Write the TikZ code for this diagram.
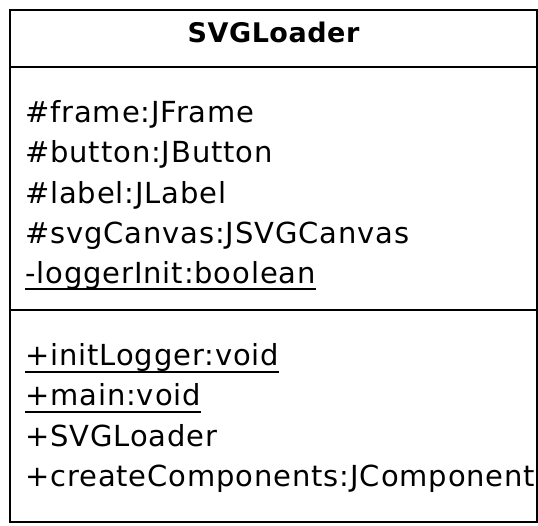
\documentclass[tikz,border=0pt]{standalone}
\usepackage{fontspec}
\newfontfamily\umlfont[LetterSpace=3]{DejaVu Sans}
\newfontfamily\umltitle[LetterSpace=2]{DejaVu Sans}

\begin{document}
\begin{tikzpicture}[x=1pt, y=-1pt,
  member/.style={anchor=base west, inner sep=0pt, font=\umlfont\fontsize{29}{34}\selectfont},
  title node/.style={anchor=base, inner sep=0pt, font=\umltitle\bfseries\fontsize{27}{32}\selectfont},
  uline/.style={line width=1.8pt}]

% page and clip, text runs past the right edge
\useasboundingbox (0,0) rectangle (538,525);
\clip (0,0) rectangle (538,525);

% class box
\coordinate (tl) at (10,10);
\coordinate (br) at (537,522);
\draw[line width=2.6pt] (tl) rectangle (br);

% compartments
\coordinate (d1l) at (10,67);
\coordinate (d1r) at (537,67);
\coordinate (d2l) at (10,310);
\coordinate (d2r) at (537,310);

\path[]
(d1l) [-, line width=2.4pt] edge (d1r)
(d2l) [-, line width=2.4pt] edge (d2r)
;

% name
\node[title node] (name) at (273.5,42) {SVGLoader};

% attributes
\node[member] (a1) at (25,122) {\#frame:JFrame};
\node[member] (a2) at (25,162) {\#button:JButton};
\node[member] (a3) at (25,203) {\#label:JLabel};
\node[member] (a4) at (25,243) {\#svgCanvas:JSVGCanvas};
\node[member] (a5) at (25,283) {-loggerInit:boolean};

% operations
\node[member] (m1) at (25,365) {+initLogger:void};
\node[member] (m2) at (25,405) {+main:void};
\node[member] (m3) at (25,446) {+SVGLoader};
\node[member] (m4) at (25,486) {+createComponents:JComponent};

% static members
\draw[uline] ([yshift=-6pt]a5.base west) -- ([yshift=-6pt]a5.base east);
\draw[uline] ([yshift=-7pt]m1.base west) -- ([yshift=-7pt]m1.base east);
\draw[uline] ([yshift=-7pt]m2.base west) -- ([yshift=-7pt]m2.base east);

\end{tikzpicture}
\end{document}
